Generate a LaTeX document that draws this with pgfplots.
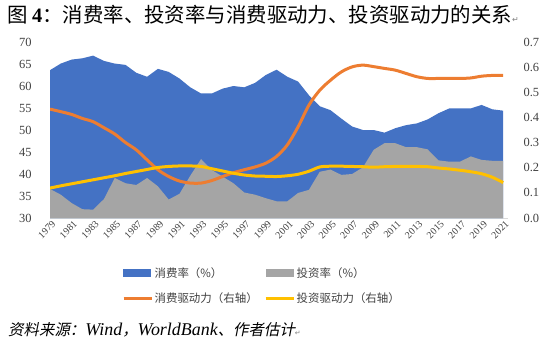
\documentclass[border=0pt]{standalone}
\usepackage{fontspec}
\usepackage{pgfplots}
\usepackage{pgfplotstable}
\pgfplotsset{compat=1.18}
\setmainfont{Liberation Serif}
\newfontfamily\cjk{Noto Sans CJK SC}
\newfontfamily\cjkit{Noto Sans CJK SC}[FakeSlant=0.2]
\newfontfamily\sym{DejaVu Sans}
\definecolor{cblue}{HTML}{4472C4}
\definecolor{cgray}{HTML}{A5A5A5}
\definecolor{corange}{HTML}{ED7D31}
\definecolor{cyellow}{HTML}{FFC000}
\definecolor{caxis}{HTML}{D9D9D9}
\definecolor{ctext}{HTML}{404040}

\pgfplotstableread{
year cons inv cd id
1979 63.6 36.6 0.433 0.119
1980 65.1 35.3 0.423 0.128
1981 66.0 33.4 0.412 0.136
1982 66.3 32.0 0.396 0.144
1983 66.9 31.9 0.383 0.152
1984 65.7 34.3 0.359 0.160
1985 65.1 39.1 0.334 0.168
1986 64.8 37.9 0.300 0.177
1987 63.0 37.5 0.271 0.185
1988 62.1 39.1 0.231 0.193
1989 63.9 37.2 0.192 0.201
1990 63.2 34.2 0.165 0.205
1991 61.7 35.5 0.147 0.207
1992 59.7 39.6 0.139 0.207
1993 58.3 43.4 0.139 0.205
1994 58.3 40.9 0.149 0.196
1995 59.4 39.4 0.165 0.187
1996 60.0 37.9 0.180 0.178
1997 59.7 35.8 0.192 0.171
1998 60.7 35.3 0.203 0.167
1999 62.5 34.5 0.218 0.166
2000 63.7 33.8 0.245 0.165
2001 62.1 33.8 0.291 0.168
2002 61.0 35.7 0.363 0.174
2003 57.9 36.4 0.449 0.186
2004 55.4 40.5 0.508 0.203
2005 54.5 41.0 0.548 0.206
2006 52.6 39.8 0.581 0.206
2007 50.8 40.0 0.601 0.205
2008 50.0 41.5 0.608 0.204
2009 50.0 45.5 0.602 0.202
2010 49.4 47.0 0.595 0.204
2011 50.4 47.0 0.588 0.205
2012 51.1 46.1 0.575 0.205
2013 51.5 46.1 0.562 0.205
2014 52.4 45.6 0.555 0.204
2015 53.8 43.1 0.555 0.199
2016 54.9 42.8 0.555 0.195
2017 54.9 42.8 0.555 0.190
2018 54.9 44.0 0.557 0.184
2019 55.7 43.2 0.564 0.176
2020 54.7 43.0 0.567 0.162
2021 54.4 43.0 0.567 0.141
}\data

\begin{document}
\begin{tikzpicture}[x=1bp,y=1bp]
\useasboundingbox (0,0) rectangle (550,347);
\begin{axis}[
  at={(50bp,129bp)}, anchor=south west,
  scale only axis, width=458bp, height=176bp,
  xmin=1979, xmax=2021.45, ymin=30, ymax=70,
  axis x line*=bottom, axis y line*=left,
  separate axis lines,
  x axis line style={draw=caxis, line width=0.8pt, -},
  y axis line style={draw=none},
  major tick length=0pt,
  xtick={1979,1981,...,2021},
  ytick={30,35,40,45,50,55,60,65,70},
  /pgf/number format/1000 sep={},
  /pgf/number format/assume math mode=true,
  xticklabel style={rotate=45, anchor=east, font=\fontsize{10}{12}\selectfont, text=ctext, xshift=3bp, yshift=-6bp},
  yticklabel style={font=\fontsize{12.5}{14}\selectfont, text=ctext, xshift=-15bp},
]
\addplot[fill=cblue, draw=none] table[x=year, y=cons] {\data} \closedcycle;
\addplot[fill=cgray, draw=none] table[x=year, y=inv] {\data} \closedcycle;
\end{axis}
\begin{axis}[
  at={(50bp,129bp)}, anchor=south west,
  scale only axis, width=458bp, height=176bp,
  xmin=1979, xmax=2021.45, ymin=0, ymax=0.7,
  axis x line=none, axis y line*=right,
  y axis line style={draw=none},
  major tick length=0pt,
  ytick={0,0.1,0.2,0.3,0.4,0.5,0.6,0.7},
  /pgf/number format/assume math mode=true,
  yticklabel style={font=\fontsize{12.5}{14}\selectfont, text=ctext, xshift=12bp,
     /pgf/number format/.cd, fixed, fixed zerofill, precision=1},
  legend columns=2,
  legend cell align=left,
  legend style={at={(0.157,-0.27)}, anchor=north west, draw=none, fill=none,
     inner sep=0pt, row sep=11bp,
     font=\cjk\fontsize{11.5}{13}\selectfont, text=ctext,
     nodes={inner sep=1.5bp},
     /tikz/every even column/.append style={column sep=5bp}},
]
\addlegendimage{legend image code/.code={\fill[cblue] (0bp,-3.5bp) rectangle (27bp,3.5bp);}}
\addlegendentry{消费率（\%）}
\addlegendimage{legend image code/.code={\fill[cgray] (0bp,-3.5bp) rectangle (27bp,3.5bp);}}
\addlegendentry{投资率（\%）}
\addplot[corange, line width=3bp, smooth, line join=round,
  legend image code/.code={\draw[corange, line width=3bp] (0bp,0bp) -- (28bp,0bp);}]
  table[x=year, y=cd] {\data};
\addlegendentry{消费驱动力（右轴）}
\addplot[cyellow, line width=3bp, smooth, line join=round,
  legend image code/.code={\draw[cyellow, line width=3bp] (0bp,0bp) -- (28bp,0bp);}]
  table[x=year, y=id] {\data};
\addlegendentry{投资驱动力（右轴）}
\end{axis}
\node[anchor=west, inner sep=0pt] at (7,332) {\fontsize{20.5}{23}\selectfont{\cjk 图 }\textbf{4}{\cjk ：消费率、投资率与消费驱动力、投资驱动力的关系}{\sym\fontsize{8}{9}\selectfont\color{gray}↵}};
\node[anchor=west, inner sep=0pt] at (8,17) {\fontsize{15.5}{18}\selectfont{\cjkit 资料来源：}{\fontsize{18}{20}\selectfont\itshape Wind}{\cjkit ，}{\fontsize{18}{20}\selectfont\itshape WorldBank}{\cjkit 、作者估计}{\sym\fontsize{7}{8}\selectfont\color{gray}↵}};
\end{tikzpicture}
\end{document}
